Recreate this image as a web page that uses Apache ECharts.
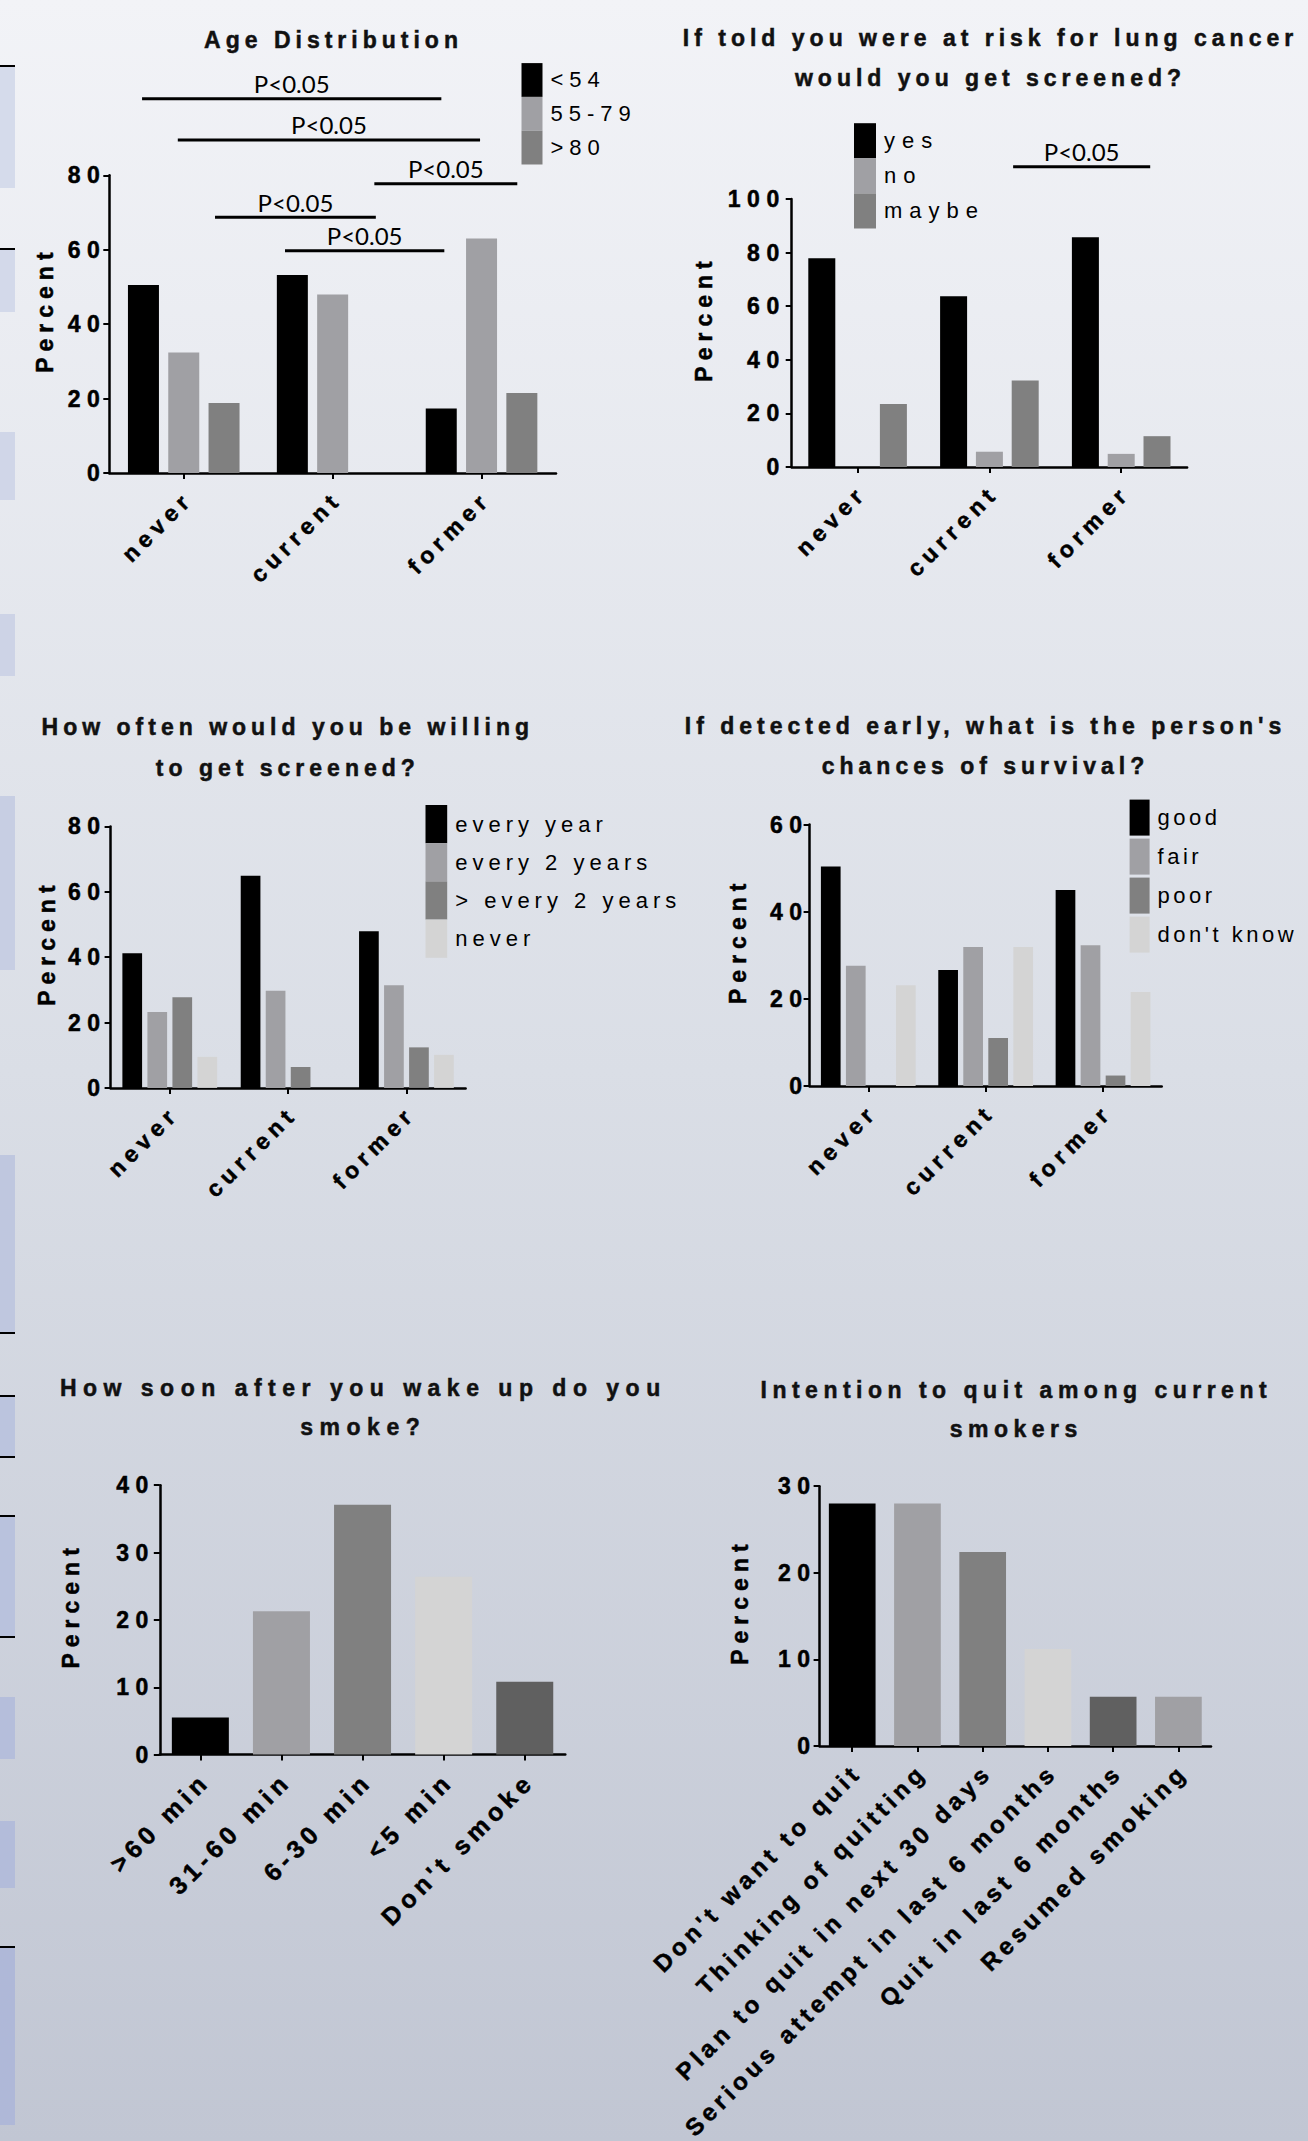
<!DOCTYPE html>
<html>
<head>
<meta charset="utf-8">
<title>Lung cancer screening survey</title>
<script src="https://cdn.jsdelivr.net/npm/echarts@6/dist/echarts.min.js"></script>
<style>
  html, body { margin: 0; padding: 0; }
  #chart { width: 1308px; height: 2141px; }
  /* letter spacing, keyed off a tag placed at the end of the font-family list */
  #chart text[style*="ls35"] { letter-spacing: 3.5px; }
  #chart text[style*="ls40"] { letter-spacing: 4px; }
  #chart text[style*="ls45"] { letter-spacing: 4.5px; }
  #chart text[style*="ls50"] { letter-spacing: 5px; }
  #chart text[style*="ls55"] { letter-spacing: 5.5px; }
  #chart text[style*="ls60"] { letter-spacing: 6px; }
  #chart text[style*="ls65"] { letter-spacing: 6.5px; }
  #chart text[style*="ls70"] { letter-spacing: 7px; }
</style>
</head>
<body>
<div id="chart"></div>
<script>
// ---- data ----
const groups = ['never', 'current', 'former'];
const sigLabel = 'P<0.05';

// Age distribution by smoking status
const ageNames = ['<54', '55-79', '>80'];
const ageValues = [
  [50.5, 53.2, 17.3],
  [32.4, 48.0, 63.0],
  [18.8, 0, 21.5]
];
const ageTicks = [0, 20, 40, 60, 80];
// [from, to, level] in category units / percent
const ageBrackets = [
  [-0.28, 1.73, 100.6],
  [-0.04, 1.99, 89.5],
  [1.28, 2.24, 77.7],
  [0.21, 1.29, 68.7],
  [0.68, 1.75, 59.7]
];

// Would you get screened if told you were at risk
const screenNames = ['yes', 'no', 'maybe'];
const screenValues = [
  [77.9, 63.7, 85.7],
  [0, 5.7, 4.9],
  [23.5, 32.3, 11.5]
];
const screenTicks = [0, 20, 40, 60, 80, 100];
const screenBrackets = [
  [1.18, 2.22, 112]
];

// How often willing to get screened
const freqNames = ['every year', 'every 2 years', '> every 2 years', 'never'];
const freqValues = [
  [41.2, 64.9, 47.9],
  [23.2, 29.7, 31.4],
  [27.7, 6.4, 12.4],
  [9.5, 0, 10.1]
];
const freqTicks = [0, 20, 40, 60, 80];

// Perceived chance of survival if detected early
const survNames = ['good', 'fair', 'poor', "don't know"];
const survValues = [
  [50.4, 26.6, 45.0],
  [27.6, 31.9, 32.3],
  [0, 11.0, 2.4],
  [23.1, 31.9, 21.6]
];
const survTicks = [0, 20, 40, 60];

// Time to first cigarette after waking
const wakeCats = ['>60 min', '31-60 min', '6-30 min', '<5 min', "Don't smoke"];
const wakeValues = [5.5, 21.3, 37.1, 26.4, 10.8];
const wakeTicks = [0, 10, 20, 30, 40];

// Intention to quit among current smokers
const quitCats = ["Don't want to quit", 'Thinking of quitting', 'Plan to quit in next 30 days',
  'Serious attempt in last 6 months', 'Quit in last 6 months', 'Resumed smoking'];
const quitValues = [28.0, 28.0, 22.4, 11.2, 5.7, 5.7];
const quitTicks = [0, 10, 20, 30];

const titles = [
  'Age Distribution',
  'If told you were at risk for lung cancer\nwould you get screened?',
  'How often would you be willing\nto get screened?',
  "If detected early, what is the person's\nchances of survival?",
  'How soon after you wake up do you\nsmoke?',
  'Intention to quit among current\nsmokers'
];
const yName = 'Percent';

// ---- styling ----
const BLACK = '#000000', GREY = '#a0a0a4', MID = '#808080', LIGHT = '#d4d4d4', DARK = '#606060';
const sans = tag => "'Liberation Sans', Arial, " + tag;
// slight outline to give the bold text its heavier weight
const heavy = { textBorderColor: BLACK, textBorderWidth: 0.5 };

const grids = [
  { left: 109.3, top: 175.3, width: 446.7, height: 297.7 },
  { left: 791.7, top: 199, width: 395.4, height: 268 },
  { left: 110.6, top: 826.4, width: 355, height: 261.5 },
  { left: 809.6, top: 824.6, width: 352.1, height: 261.4 },
  { left: 159.8, top: 1485.2, width: 405.5, height: 269.4 },
  { left: 819.6, top: 1486.2, width: 391.4, height: 259.8 }
];
const tickSets = [ageTicks, screenTicks, freqTicks, survTicks, wakeTicks, quitTicks];
const yLabelMargin = [3, 6, 4, 1, 5, 3];
const yNameGap = [64, 88, 64, 72, 89, 80];
const xCats = [groups, groups, groups, groups, wakeCats, quitCats];
// [font size, spacing tag] of the category labels
const xLabelFont = [[23, 'ls55'], [23, 'ls55'], [23, 'ls55'], [23, 'ls55'], [25, 'ls50'], [24, 'ls45']];

const xAxes = xCats.map((cats, i) => ({
  type: 'category', gridIndex: i, data: cats,
  axisLine: { show: true, lineStyle: { color: BLACK, width: 2.5 } },
  axisTick: { show: true, alignWithLabel: true, length: 6, lineStyle: { color: BLACK, width: 2 } },
  axisLabel: Object.assign({
    interval: 0, rotate: 45, margin: 27, padding: [0, -7, 0, 0], color: BLACK,
    fontSize: xLabelFont[i][0], fontWeight: 'bold', fontFamily: sans(xLabelFont[i][1])
  }, heavy),
  splitLine: { show: false }
}));
// hidden value axes spanning the category bands, used to place the significance bars
xAxes.push({ type: 'value', gridIndex: 0, min: -0.5, max: 2.5, show: false });
xAxes.push({ type: 'value', gridIndex: 1, min: -0.5, max: 2.5, show: false });

const yAxes = tickSets.map((ticks, i) => ({
  type: 'value', gridIndex: i,
  min: ticks[0], max: ticks[ticks.length - 1], interval: ticks[1] - ticks[0],
  axisLine: { show: true, onZero: false, lineStyle: { color: BLACK, width: 2.5 } },
  axisTick: { show: true, length: 6, lineStyle: { color: BLACK, width: 2 } },
  axisLabel: Object.assign({
    margin: yLabelMargin[i], color: BLACK,
    fontSize: 23, fontWeight: 'bold', fontFamily: sans('ls65')
  }, heavy),
  splitLine: { show: false },
  name: yName, nameLocation: 'middle', nameGap: yNameGap[i],
  nameTextStyle: Object.assign({
    color: BLACK, fontSize: 23, fontWeight: 'bold', fontFamily: sans('ls60'),
    verticalAlign: 'middle', padding: [0, 0, 0, 29]
  }, heavy)
}));

function groupedBars(names, values, colors, axis, barWidth, barGap) {
  return names.map((name, k) => ({
    type: 'bar', name: name, xAxisIndex: axis, yAxisIndex: axis,
    data: values[k], barWidth: barWidth, barGap: barGap,
    itemStyle: { color: colors[k] }, silent: true
  }));
}

function singleBars(values, colors, axis, barWidth) {
  return {
    type: 'bar', xAxisIndex: axis, yAxisIndex: axis,
    data: values, barWidth: barWidth, silent: true,
    itemStyle: { color: p => colors[p.dataIndex] }
  };
}

function brackets(data, xAxisIndex, yAxisIndex) {
  return {
    type: 'custom', xAxisIndex: xAxisIndex, yAxisIndex: yAxisIndex,
    clip: false, silent: true, z: 5, data: data,
    renderItem: (params, api) => {
      const a = api.coord([api.value(0), api.value(2)]);
      const b = api.coord([api.value(1), api.value(2)]);
      return {
        type: 'group',
        children: [
          { type: 'line', shape: { x1: a[0], y1: a[1], x2: b[0], y2: b[1] },
            style: { stroke: BLACK, lineWidth: 3 } },
          { type: 'text', x: (a[0] + b[0]) / 2, y: a[1] - 15,
            style: { text: sigLabel, fill: BLACK, fontSize: 24, fontFamily: 'Lato',
                     align: 'center', verticalAlign: 'middle' } }
        ]
      };
    }
  };
}

const series = [].concat(
  groupedBars(ageNames, ageValues, [BLACK, GREY, MID], 0, 31, '30%'),
  [brackets(ageBrackets, 6, 0)],
  groupedBars(screenNames, screenValues, [BLACK, GREY, MID], 1, 27, '32.6%'),
  [brackets(screenBrackets, 7, 1)],
  groupedBars(freqNames, freqValues, [BLACK, GREY, MID, LIGHT], 2, 19.7, '27%'),
  groupedBars(survNames, survValues, [BLACK, GREY, MID, LIGHT], 3, 19.7, '27%'),
  [singleBars(wakeValues, [BLACK, GREY, MID, LIGHT, DARK], 4, 57)],
  [singleBars(quitValues, [BLACK, GREY, MID, LIGHT, DARK, GREY], 5, 46.7)]
);

function legendAt(names, left, top, w, h, gap, tag) {
  return {
    data: names, orient: 'vertical', left: left, top: top, padding: 0,
    itemWidth: w, itemHeight: h, itemGap: gap, icon: 'rect', selectedMode: false,
    itemStyle: { borderWidth: 0 },
    textStyle: { color: BLACK, fontSize: 22, fontFamily: sans(tag), padding: [0, 0, 0, 3] }
  };
}

const legends = [
  legendAt(ageNames, 521.5, 63.1, 21, 33.8, 0, 'ls60'),
  legendAt(screenNames, 854, 123.2, 22, 35.1, 0, 'ls70'),
  legendAt(freqNames, 425.5, 805, 21.7, 38.2, 0, 'ls50'),
  legendAt(survNames, 1129.6, 799.6, 20, 36, 3, 'ls35')
];

// titles: [centre x, centre y, line height, spacing tag]
const titlePos = [
  [333.5, 40, 40, 'ls50'],
  [990.5, 58.4, 40, 'ls50'],
  [287.8, 747, 41, 'ls50'],
  [985.5, 745.7, 40, 'ls50'],
  [363.3, 1407.3, 39, 'ls65'],
  [1016.3, 1409.8, 39, 'ls55']
];
const titleGraphics = titles.map((t, i) => ({
  type: 'text', x: titlePos[i][0], y: titlePos[i][1], silent: true,
  style: {
    text: t, fill: '#111', stroke: '#111', lineWidth: 0.5,
    fontSize: 23, fontWeight: 'bold', fontFamily: sans(titlePos[i][3]),
    align: 'center', verticalAlign: 'middle', lineHeight: titlePos[i][2]
  }
}));

// strip of panels along the left margin: [top, bottom, colour, rule at top, rule at bottom]
const sideBlocks = [
  [66, 188, '#d5dbeb', true, false],
  [249, 312, '#d3d9ea', true, false],
  [432, 500, '#d0d6e8', false, false],
  [614, 676, '#cdd3e6', false, false],
  [796, 970, '#c7cee3', false, false],
  [1155, 1333, '#bfc7df', false, true],
  [1396, 1457, '#bbc4de', true, true],
  [1516, 1637, '#b9c2dd', true, true],
  [1697, 1759, '#b5bedb', false, false],
  [1821, 1888, '#b3bcda', false, false],
  [1947, 2125, '#afb8d8', true, false]
];
const sideGraphics = [];
sideBlocks.forEach(b => {
  sideGraphics.push({ type: 'rect', silent: true, shape: { x: 0, y: b[0], width: 15, height: b[1] - b[0] },
    style: { fill: b[2] } });
  if (b[3]) sideGraphics.push({ type: 'rect', silent: true, shape: { x: 0, y: b[0] - 1, width: 15, height: 2 },
    style: { fill: BLACK } });
  if (b[4]) sideGraphics.push({ type: 'rect', silent: true, shape: { x: 0, y: b[1] - 1, width: 15, height: 2 },
    style: { fill: BLACK } });
});

const chart = echarts.init(document.getElementById('chart'), null, { renderer: 'svg' });
chart.setOption({
  animation: false,
  backgroundColor: {
    type: 'linear', x: 0, y: 0, x2: 0, y2: 1,
    colorStops: [
      { offset: 0, color: '#f2f3f7' },
      { offset: 0.5, color: '#dadee6' },
      { offset: 1, color: '#c1c6d3' }
    ]
  },
  grid: grids,
  xAxis: xAxes,
  yAxis: yAxes,
  legend: legends,
  series: series,
  graphic: sideGraphics.concat(titleGraphics)
});
</script>
</body>
</html>
